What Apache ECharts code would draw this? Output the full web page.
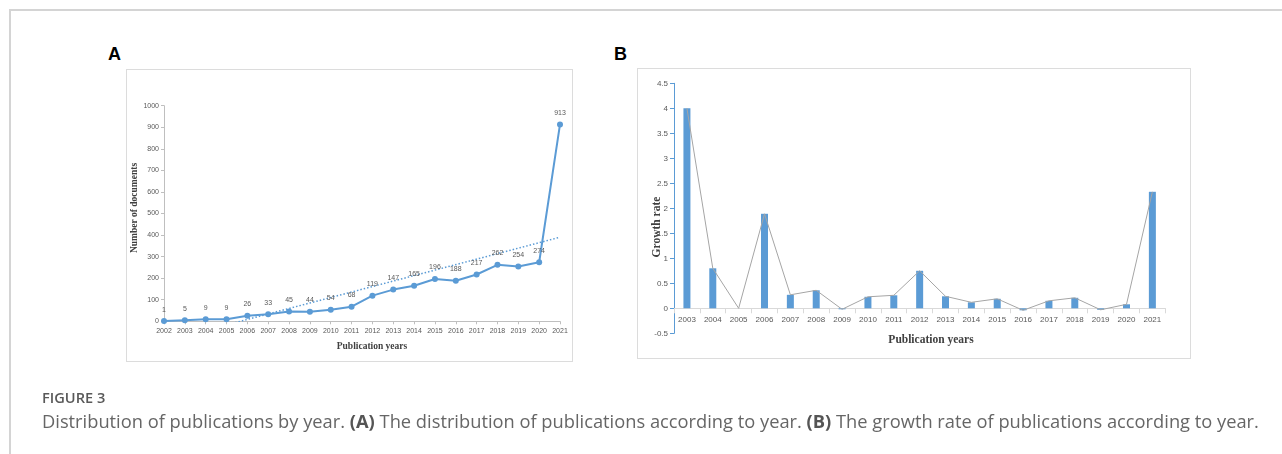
<!DOCTYPE html>
<html>
<head>
<meta charset="utf-8">
<script src="https://cdn.jsdelivr.net/npm/echarts/dist/echarts.min.js"></script>
<style>
  html, body { margin: 0; padding: 0; background: #fff; }
  body { width: 1282px; height: 454px; position: relative; overflow: hidden; }
  .pageborder { position: absolute; left: 9px; top: 9px; width: 1300px; height: 500px;
    border-top: 2px solid #d4d4d4; border-left: 2px solid #d4d4d4; box-sizing: border-box; }
  .frame { position: absolute; border: 1px solid #dcdcdc; box-sizing: border-box; }
  .panel { position: absolute; font-family: "Liberation Sans", Arial, sans-serif; font-weight: bold;
    font-size: 18px; color: #000; line-height: 18px; }
  #chart { position: absolute; left: 0; top: 0; width: 1282px; height: 454px; }
  .figlabel { position: absolute; left: 42px; top: 389px; font-family: "Open Sans", sans-serif;
    font-weight: 600; font-size: 14.6px; line-height: 16px; color: #595959; }
  .caption { position: absolute; left: 42px; top: 410px; font-family: "Open Sans", sans-serif;
    font-size: 18.3px; line-height: 22px; color: #666; white-space: nowrap; }
  .caption b { color: #555; font-weight: 700; }
</style>
</head>
<body>
<div class="pageborder"></div>
<div class="frame" style="left:126px; top:69px; width:447px; height:293px;"></div>
<div class="frame" style="left:637px; top:68px; width:554px; height:291px;"></div>
<div class="panel" style="left:108px; top:45px;">A</div>
<div class="panel" style="left:614px; top:45px;">B</div>
<div id="chart"></div>
<div class="figlabel">FIGURE 3</div>
<div class="caption">Distribution of publications by year. <b>(A)</b> The distribution of publications according to year. <b>(B)</b> The growth rate of publications according to year.</div>
<script>
// Panel A: number of documents per year
var yearsA = ['2002','2003','2004','2005','2006','2007','2008','2009','2010','2011','2012','2013','2014','2015','2016','2017','2018','2019','2020','2021'];
var documents = [1, 5, 9, 9, 26, 33, 45, 44, 54, 68, 119, 147, 165, 196, 188, 217, 262, 254, 274, 913];
// Linear trend line endpoints: [category index, value]
var trendLine = [[0, -93], [19, 390]];

// Panel B: growth rate per year
var yearsB = ['2003','2004','2005','2006','2007','2008','2009','2010','2011','2012','2013','2014','2015','2016','2017','2018','2019','2020','2021'];
var growthRate = [4.0, 0.8, 0.0, 1.89, 0.27, 0.36, -0.02, 0.23, 0.26, 0.75, 0.24, 0.12, 0.19, -0.04, 0.15, 0.21, -0.03, 0.08, 2.33];

var blue = '#5b9bd5';
var sans = '"Liberation Sans", Arial, sans-serif';
var serif = '"Liberation Serif", "Times New Roman", serif';

var chart = echarts.init(document.getElementById('chart'), null, { renderer: 'canvas' });
chart.setOption({
  animation: false,
  grid: [
    { left: 164, top: 105.7, width: 396, height: 215.6 },
    { left: 674, top: 83.3, width: 491.3, height: 250 }
  ],
  xAxis: [
    {
      type: 'category', gridIndex: 0, data: yearsA, boundaryGap: false,
      axisLine: { lineStyle: { color: '#bfbfbf', width: 1 } },
      axisTick: { show: true, length: 3, alignWithLabel: true, lineStyle: { color: '#bfbfbf' } },
      axisLabel: { interval: 0, fontSize: 7, color: '#595959', margin: 6, fontFamily: sans },
      splitLine: { show: false }
    },
    {
      type: 'category', gridIndex: 1, data: yearsB, boundaryGap: true,
      offset: -25,
      axisLine: { onZero: false, lineStyle: { color: '#d9d9d9', width: 1 } },
      axisTick: { show: true, length: 5, interval: 0, lineStyle: { color: '#d9d9d9' } },
      axisLabel: { interval: 0, fontSize: 8, color: '#595959', margin: 7, fontFamily: sans },
      splitLine: { show: false }
    }
  ],
  yAxis: [
    {
      type: 'value', gridIndex: 0, min: 0, max: 1000, interval: 100,
      axisLine: { show: true, lineStyle: { color: '#bfbfbf', width: 1 } },
      axisTick: { show: true, length: 3, lineStyle: { color: '#bfbfbf' } },
      axisLabel: { fontSize: 7, color: '#595959', margin: 5, fontFamily: sans,
        formatter: function (v) { return String(v); } },
      splitLine: { show: false }
    },
    {
      type: 'value', gridIndex: 1, min: -0.5, max: 4.5, interval: 0.5,
      axisLine: { show: true, lineStyle: { color: blue, width: 1 } },
      axisTick: { show: true, length: 4, lineStyle: { color: blue } },
      axisLabel: { fontSize: 8, color: '#595959', margin: 6, fontFamily: sans },
      splitLine: { show: false }
    }
  ],
  series: [
    {
      type: 'line', xAxisIndex: 0, yAxisIndex: 0, data: trendLine,
      symbol: 'none', silent: true, z: 1,
      lineStyle: { color: blue, width: 1.5, type: [1.5, 2] }
    },
    {
      type: 'line', xAxisIndex: 0, yAxisIndex: 0, data: documents,
      symbol: 'circle', symbolSize: 6, z: 3,
      lineStyle: { color: blue, width: 2 },
      itemStyle: { color: blue },
      label: { show: true, position: 'top', distance: 5, fontSize: 7, color: '#595959', fontFamily: sans }
    },
    {
      type: 'bar', xAxisIndex: 1, yAxisIndex: 1, data: growthRate,
      barWidth: 7, itemStyle: { color: blue }, z: 2
    },
    {
      type: 'line', xAxisIndex: 1, yAxisIndex: 1, data: growthRate,
      symbol: 'none', z: 3,
      lineStyle: { color: '#a5a5a5', width: 1 }
    }
  ],
  graphic: [
    { type: 'text', x: 372, y: 347, style: { text: 'Publication years', fill: '#404040',
      font: 'bold 9.5px ' + serif, align: 'center', verticalAlign: 'middle' } },
    { type: 'text', x: 135, y: 208, rotation: Math.PI / 2, style: { text: 'Number of documents', fill: '#404040',
      font: 'bold 9.5px ' + serif, align: 'center', verticalAlign: 'middle' } },
    { type: 'text', x: 931, y: 340.5, style: { text: 'Publication years', fill: '#404040',
      font: 'bold 11.5px ' + serif, align: 'center', verticalAlign: 'middle' } },
    { type: 'text', x: 657, y: 227, rotation: Math.PI / 2, style: { text: 'Growth rate', fill: '#404040',
      font: 'bold 11.5px ' + serif, align: 'center', verticalAlign: 'middle' } }
  ]
});
</script>
</body>
</html>
